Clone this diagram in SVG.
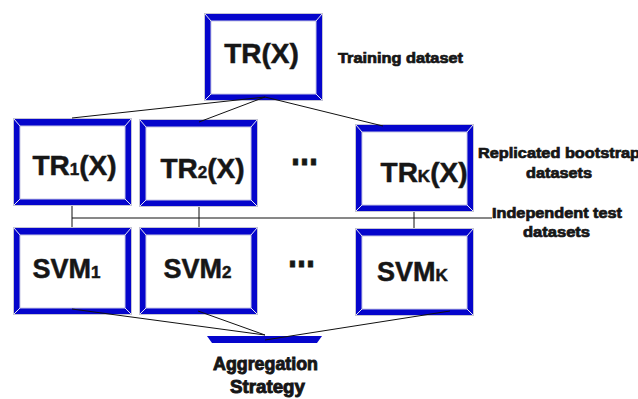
<svg xmlns="http://www.w3.org/2000/svg" width="638" height="399" viewBox="0 0 638 399">
<style>
.t{font-family:"Liberation Sans",Arial,sans-serif;font-weight:bold;fill:#161616}
.big{font-size:28px;stroke:#161616;stroke-width:0.5}
.svm{font-size:27px;stroke:#161616;stroke-width:0.5}
.sub{font-size:17px}
.lab{font-size:14px;stroke:#161616;stroke-width:0.7}
.agg{font-size:18px;stroke:#161616;stroke-width:0.9}
.dots{font-size:40px;stroke:#161616;stroke-width:0.8}
.c line{stroke:#111;stroke-width:1;fill:none}
</style>
<defs>
<symbol id="bevel" overflow="visible">
<rect x="0.5" y="0.5" width="118" height="87" fill="#0505cc" stroke="#c4c4d4" stroke-width="1"/>
<rect x="7" y="8" width="105" height="73" fill="#ffffff" stroke="#c8c8e4" stroke-width="1"/>
<g stroke="#e6e6f4" stroke-width="1">
<line x1="1" y1="1" x2="7" y2="8"/>
<line x1="118" y1="1" x2="112" y2="8"/>
<line x1="1" y1="87" x2="7" y2="81"/>
<line x1="118" y1="87" x2="112" y2="81"/>
</g>
</symbol>
</defs>
<rect width="638" height="399" fill="#ffffff"/>

<g id="tr">
<use href="#bevel" x="204" y="13"/>
<text class="t big" x="261.5" y="63" text-anchor="middle">TR(X)</text>
</g>
<g id="tr1">
<use href="#bevel" x="13" y="118"/>
<text class="t big" x="74.5" y="175" text-anchor="middle">TR<tspan class="sub">1</tspan>(X)</text>
</g>
<g id="tr2">
<use href="#bevel" x="139" y="119"/>
<text class="t big" x="202.5" y="178" text-anchor="middle">TR<tspan class="sub">2</tspan>(X)</text>
</g>
<g id="trk">
<use href="#bevel" x="355" y="124"/>
<text class="t big" x="424" y="182" text-anchor="middle">TR<tspan class="sub">K</tspan>(X)</text>
</g>
<g id="svm1">
<use href="#bevel" x="13" y="227"/>
<text class="t svm" x="66.5" y="278" text-anchor="middle">SVM<tspan class="sub">1</tspan></text>
</g>
<g id="svm2">
<use href="#bevel" x="139" y="227"/>
<text class="t svm" x="197.5" y="278" text-anchor="middle">SVM<tspan class="sub">2</tspan></text>
</g>
<g id="svmk">
<use href="#bevel" x="355" y="228"/>
<text class="t svm" x="412.5" y="281" text-anchor="middle">SVM<tspan class="sub">K</tspan></text>
</g>
<g id="agg">
<polygon points="207,336 322,336 317,343 212,343" fill="#0505cc"/>
<text class="t agg" x="265.5" y="370" text-anchor="middle" textLength="105" lengthAdjust="spacingAndGlyphs">Aggregation</text>
<text class="t agg" x="267.5" y="393" text-anchor="middle" textLength="75" lengthAdjust="spacingAndGlyphs">Strategy</text>
</g>
<g id="dots1"><text class="t dots" x="291" y="165" textLength="27" lengthAdjust="spacingAndGlyphs">...</text></g>
<g id="dots2"><text class="t dots" x="288" y="267" textLength="27" lengthAdjust="spacingAndGlyphs">...</text></g>
<g id="labels">
<text class="t lab" x="338" y="63" textLength="125" lengthAdjust="spacingAndGlyphs">Training dataset</text>
<text class="t lab" x="559" y="158" text-anchor="middle" textLength="162" lengthAdjust="spacingAndGlyphs">Replicated bootstrap</text>
<text class="t lab" x="559" y="178" text-anchor="middle" textLength="66" lengthAdjust="spacingAndGlyphs">datasets</text>
<text class="t lab" x="557" y="218" text-anchor="middle" textLength="130" lengthAdjust="spacingAndGlyphs">Independent test</text>
<text class="t lab" x="556.5" y="237" text-anchor="middle" textLength="67" lengthAdjust="spacingAndGlyphs">datasets</text>
</g>

<g id="connectors" class="c">
<line x1="265" y1="97" x2="72" y2="118"/>
<line x1="265" y1="97" x2="199" y2="122"/>
<line x1="265" y1="97" x2="383" y2="126"/>
<line x1="72" y1="206" x2="72" y2="227"/>
<line x1="199" y1="207" x2="199" y2="227"/>
<line x1="414" y1="212" x2="414" y2="228"/>
<line x1="72" y1="218" x2="492" y2="218"/>
<line x1="72" y1="309" x2="265" y2="335"/>
<line x1="198" y1="311" x2="265" y2="335"/>
<line x1="450" y1="311" x2="265" y2="340"/>
</g>
</svg>
